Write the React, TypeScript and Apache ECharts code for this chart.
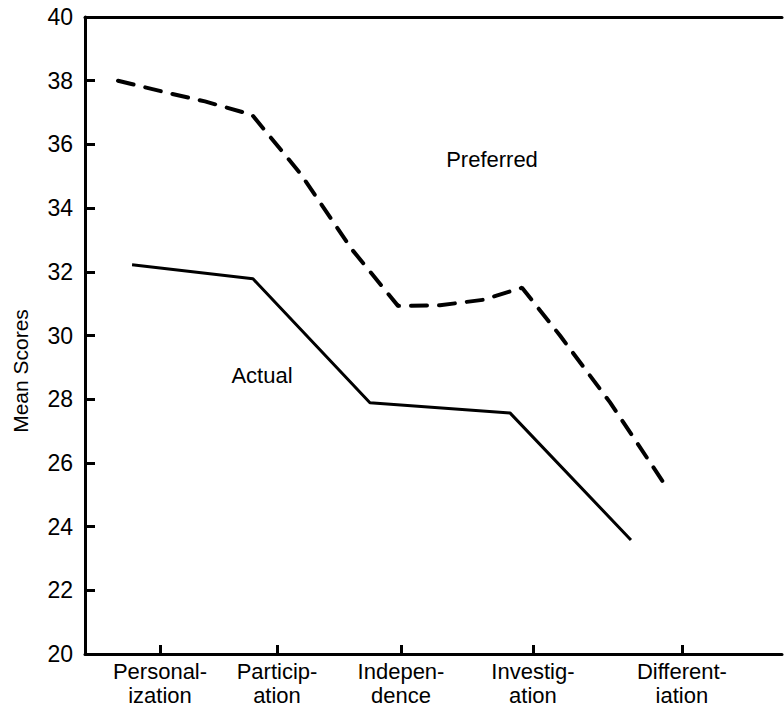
import React, { useEffect, useRef } from "react";
import * as echarts from "echarts";

// Category tick positions on the horizontal scale (hand-drawn, uneven)
const categories = ["Personal-\nization", "Particip-\nation", "Indepen-\ndence", "Investig-\nation", "Different-\niation"];
const categoryPositions = [1, 1.9, 2.854, 3.869, 5.015];

// Preferred (dashed) line: [x position, mean score]
const preferredX = [0.677, 1.077, 1.346, 1.708, 2.077, 2.477, 2.831, 3.154, 3.485, 3.785, 4.077, 4.462, 4.9];
const preferredY = [38.0, 37.6, 37.35, 36.93, 35.1, 32.7, 30.93, 30.95, 31.12, 31.5, 30.0, 27.9, 25.22];

// Actual (solid) line
const actualX = [0.785, 1.715, 2.615, 3.692, 4.623];
const actualY = [32.22, 31.78, 27.89, 27.57, 23.58];

const yTicks = { min: 20, max: 40, interval: 2 };

const FONT = "'Liberation Sans', Arial, Helvetica, sans-serif";

export default function App() {
  const ref = useRef<HTMLDivElement>(null);
  useEffect(() => {
    if (!ref.current) return;
    const chart = echarts.init(ref.current, null, { renderer: "svg" });
    const xMin = 0.423;
    const xMax = 5.785;
    const option: any = {
      animation: false,
      backgroundColor: "#ffffff",
      grid: { left: 85, right: 2, top: 17, bottom: 55, containLabel: false, outerBoundsMode: "none" },
      xAxis: [
        {
          type: "value",
          min: xMin,
          max: xMax,
          position: "bottom",
          splitLine: { show: false },
          axisLine: { show: true, lineStyle: { color: "#000", width: 3 } },
          axisTick: {
            show: true,
            inside: true,
            length: 9,
            lineStyle: { color: "#000", width: 3 },
            customValues: categoryPositions,
          },
          axisLabel: {
            show: true,
            customValues: categoryPositions,
            formatter: (v: number) => {
              let best = 0;
              let d = Infinity;
              categoryPositions.forEach((p, i) => {
                if (Math.abs(p - v) < d) {
                  d = Math.abs(p - v);
                  best = i;
                }
              });
              return categories[best];
            },
            color: "#000",
            fontFamily: FONT,
            fontSize: 22,
            lineHeight: 24,
            margin: 5,
            align: "center",
          },
        },
        {
          type: "value",
          min: xMin,
          max: xMax,
          position: "top",
          splitLine: { show: false },
          axisLine: { show: true, lineStyle: { color: "#000", width: 3 } },
          axisTick: { show: false },
          axisLabel: { show: false },
        },
      ],
      yAxis: {
        type: "value",
        min: yTicks.min,
        max: yTicks.max,
        interval: yTicks.interval,
        splitLine: { show: false },
        axisLine: { show: true, lineStyle: { color: "#000", width: 3 } },
        axisTick: { show: true, inside: true, length: 10, lineStyle: { color: "#000", width: 3 } },
        axisLabel: { color: "#000", fontFamily: FONT, fontSize: 23, margin: 12 },
      },
      series: [
        {
          name: "Preferred",
          type: "line",
          xAxisIndex: 0,
          data: preferredX.map((x, i) => [x, preferredY[i]]),
          showSymbol: false,
          symbol: "none",
          lineStyle: { color: "#000", width: 4, type: [16, 12], cap: "round" },
        },
        {
          name: "Actual",
          type: "line",
          xAxisIndex: 0,
          data: actualX.map((x, i) => [x, actualY[i]]),
          showSymbol: false,
          symbol: "none",
          lineStyle: { color: "#000", width: 3 },
        },
      ],
      graphic: [
        {
          type: "text",
          x: 20,
          y: 371,
          rotation: Math.PI / 2,
          style: {
            text: "Mean Scores",
            fontFamily: FONT,
            fontSize: 21,
            fill: "#000",
            align: "center",
            verticalAlign: "middle",
          },
        },
        {
          type: "text",
          x: 262,
          y: 375,
          style: {
            text: "Actual",
            fontFamily: FONT,
            fontSize: 22,
            fill: "#000",
            align: "center",
            verticalAlign: "middle",
          },
        },
        {
          type: "text",
          x: 492,
          y: 159,
          style: {
            text: "Preferred",
            fontFamily: FONT,
            fontSize: 22,
            fill: "#000",
            align: "center",
            verticalAlign: "middle",
          },
        },
      ],
    };
    chart.setOption(option);
    return () => chart.dispose();
  }, []);
  return <div ref={ref} style={{ position: "absolute", left: 0, top: 0, width: 784, height: 709 }} />;
}
